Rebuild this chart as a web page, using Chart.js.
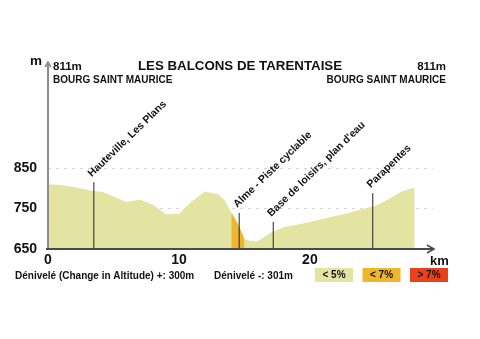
<!DOCTYPE html>
<html>
<head>
<meta charset="utf-8">
<script src="https://cdn.jsdelivr.net/npm/chart.js@4"></script>
<style>
  html, body { margin: 0; padding: 0; background: #fff; }
  canvas { display: block; }
</style>
</head>
<body>
<canvas id="profil" width="480" height="339"></canvas>
<script>
// profil altimétrique
const distKm = [0, 1, 2.2, 3.4, 4.2, 5, 6, 7, 8, 9, 10, 11, 12, 13, 13.5, 14, 14.5, 15, 15.5, 16, 17, 18, 19.5, 21, 22.5, 24, 25, 26, 27, 28];
const altitude = [810, 808, 802, 793, 791, 780, 766, 772, 760, 736, 737, 768, 792, 785, 770, 740, 712, 675, 670, 669, 690, 704, 713, 725, 735, 748, 757, 773, 792, 802];

// tronçon en pente < 7%
const steepFrom = 14;
const steepTo = 15;

// repères
const markerNames = ['Hauteville, Les Plans', 'Alme - Piste cyclable', "Base de loisirs, plan d'eau", 'Parapentes'];
const markerKm = [3.5, 14.6, 17.2, 24.8];
const markerTop = [815, 739, 717, 788];

const xTicks = [0, 10, 20];
const yTicks = [650, 750, 850];

const legendLabels = ['< 5%', '< 7%', '> 7%'];
const legendColors = ['#e3e4a2', '#efb52d', '#e8421c'];

const profilePoints = distKm.map((km, i) => ({ x: km, y: altitude[i] }));
const steepPoints = profilePoints.filter(p => p.x >= steepFrom && p.x <= steepTo);

const markerSets = markerKm.map((km, i) => ({
    type: 'line',
    data: [{ x: km, y: yTicks[0] }, { x: km, y: markerTop[i] }],
    borderColor: '#222',
    borderWidth: 1,
    pointRadius: 0,
    fill: false,
    order: 1,
}));

const FONT = 'Liberation Sans, Arial, sans-serif';

const decorPlugin = {
    id: 'decor',
    afterDatasetsDraw(chart) {
        const { ctx, scales: { x, y } } = chart;
        const x0 = x.getPixelForValue(0);
        const yBase = y.getPixelForValue(yTicks[0]);
        const yTop = chart.chartArea.top;
        const xEnd = chart.chartArea.right;

        ctx.save();
        // axe vertical
        ctx.strokeStyle = '#8c8c8c';
        ctx.lineWidth = 2;
        ctx.beginPath();
        ctx.moveTo(x0, yBase);
        ctx.lineTo(x0, yTop + 1);
        ctx.stroke();
        ctx.lineWidth = 1.5;
        ctx.beginPath();
        ctx.moveTo(x0 - 3, yTop + 5);
        ctx.lineTo(x0, yTop);
        ctx.lineTo(x0 + 3, yTop + 5);
        ctx.stroke();

        // axe horizontal
        ctx.strokeStyle = '#4a4a4a';
        ctx.lineWidth = 2;
        ctx.beginPath();
        ctx.moveTo(x0 - 2, yBase);
        ctx.lineTo(xEnd, yBase);
        ctx.stroke();
        ctx.lineWidth = 1.5;
        ctx.beginPath();
        ctx.moveTo(xEnd - 6, yBase - 4);
        ctx.lineTo(xEnd + 1, yBase);
        ctx.lineTo(xEnd - 6, yBase + 4);
        ctx.stroke();

        // noms des repères
        ctx.fillStyle = '#111';
        ctx.font = 'bold 10.5px ' + FONT;
        ctx.textAlign = 'left';
        ctx.textBaseline = 'middle';
        markerNames.forEach((name, i) => {
            const px = x.getPixelForValue(markerKm[i]);
            const py = y.getPixelForValue(markerTop[i]);
            ctx.save();
            ctx.translate(px - 4, py - 7);
            ctx.rotate(-0.77);
            ctx.fillText(name, 0, 0);
            ctx.restore();
        });

        // textes
        ctx.textBaseline = 'middle';
        ctx.font = 'bold 13.5px ' + FONT;
        ctx.textAlign = 'left';
        ctx.fillText('m', 30, 61);
        ctx.font = 'bold 13px ' + FONT;
        ctx.fillText('km', 430, 261);

        ctx.font = 'bold 13.3px ' + FONT;
        ctx.textAlign = 'center';
        ctx.fillText('LES BALCONS DE TARENTAISE', 240, 66);

        ctx.font = 'bold 11.5px ' + FONT;
        ctx.textAlign = 'left';
        ctx.fillText('811m', 53, 67);
        ctx.textAlign = 'right';
        ctx.fillText('811m', 446, 67);

        ctx.font = 'bold 10px ' + FONT;
        ctx.textAlign = 'left';
        ctx.fillText('BOURG SAINT MAURICE', 53, 80);
        ctx.textAlign = 'right';
        ctx.fillText('BOURG SAINT MAURICE', 446, 80);

        ctx.textAlign = 'left';
        ctx.fillText('Dénivelé (Change in Altitude) +: 300m', 15, 276);
        ctx.fillText('Dénivelé -: 301m', 214, 276);

        // légende
        legendLabels.forEach((label, i) => {
            const bx = 315 + i * 47.5;
            ctx.fillStyle = legendColors[i];
            ctx.fillRect(bx, 268, 38, 14);
            ctx.fillStyle = '#111';
            ctx.textAlign = 'center';
            ctx.fillText(label, bx + 19, 275);
        });
        ctx.restore();
    }
};

new Chart(document.getElementById('profil'), {
    type: 'line',
    data: {
        datasets: [
            {
                data: profilePoints,
                backgroundColor: legendColors[0],
                borderWidth: 0,
                pointRadius: 0,
                tension: 0,
                fill: 'start',
                order: 3,
            },
            {
                data: steepPoints,
                backgroundColor: legendColors[1],
                borderWidth: 0,
                pointRadius: 0,
                tension: 0,
                fill: 'start',
                order: 2,
            },
            ...markerSets,
        ],
    },
    options: {
        responsive: false,
        devicePixelRatio: 1,
        animation: false,
        layout: { padding: { left: 0, top: 62, right: 47, bottom: 0 } },
        scales: {
            x: {
                type: 'linear',
                min: 0,
                max: 29.4,
                afterBuildTicks: (scale) => { scale.ticks = xTicks.map(v => ({ value: v })); },
                afterFit: (scale) => { scale.height = 90; },
                grid: { display: false, drawTicks: false },
                border: { display: false },
                ticks: {
                    color: '#111',
                    font: { family: FONT, size: 14, weight: 'bold' },
                    padding: 3,
                    maxRotation: 0,
                    autoSkip: false,
                },
            },
            y: {
                min: 650,
                max: 1112,
                afterBuildTicks: (scale) => { scale.ticks = yTicks.map(v => ({ value: v })); },
                afterFit: (scale) => { scale.width = 48; },
                grid: {
                    drawTicks: false,
                    color: (c) => c.tick && c.tick.value === yTicks[0] ? 'rgba(0,0,0,0)' : '#d6d6d6',
                },
                border: { display: false, dash: [3, 5] },
                ticks: {
                    color: '#111',
                    font: { family: FONT, size: 14, weight: 'bold' },
                    padding: 11,
                },
            },
        },
        plugins: {
            legend: { display: false },
            tooltip: { enabled: false },
        },
    },
    plugins: [decorPlugin],
});
</script>
</body>
</html>
